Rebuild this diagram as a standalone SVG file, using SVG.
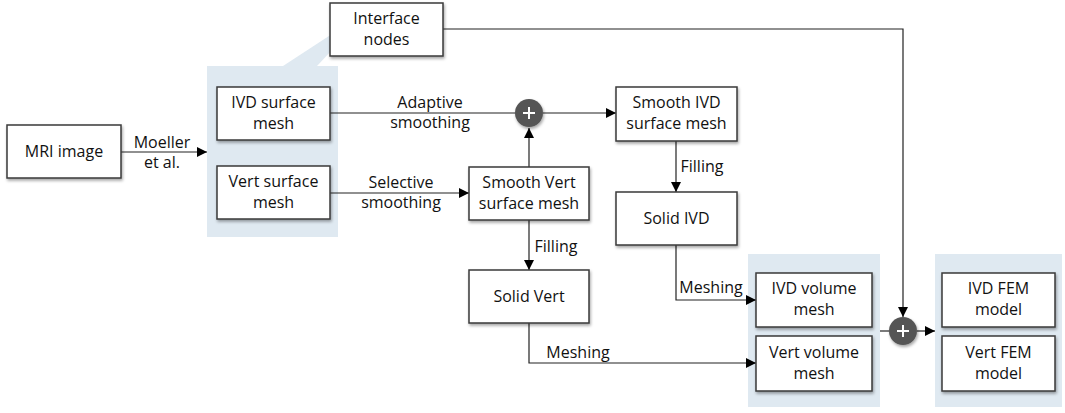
<svg xmlns="http://www.w3.org/2000/svg" width="1065" height="413" viewBox="0 0 1065 413">
<defs>
<filter id="sh" x="-20%" y="-20%" width="140%" height="150%">
<feDropShadow dx="1" dy="2" stdDeviation="1.5" flood-color="#000" flood-opacity="0.35"/>
</filter>
<marker id="ah" viewBox="0 0 10 10" refX="10" refY="5" markerWidth="10" markerHeight="10" markerUnits="userSpaceOnUse" orient="auto">
<path d="M0,0 L10,5 L0,10 z" fill="#000"/>
</marker>
</defs>
<style>
.box{fill:#fff;stroke:#3a3a3a;stroke-width:1.5;filter:url(#sh)}
.panel{fill:#dfe9f1}
.t{font-family:"Open Sans","Liberation Sans",sans-serif;font-size:16px;fill:#111;text-anchor:middle}
.c{fill:none;stroke:#222;stroke-width:1.2}
.a{fill:none;stroke:#222;stroke-width:1.2;marker-end:url(#ah)}
.plus{fill:#555;filter:url(#sh)}
.pl{stroke:#fff;stroke-width:2}
</style>
<g id="panels">
<polygon class="panel" points="283,66 332,34 332,50 317,66"/>
<rect class="panel" x="207" y="66" width="131" height="171"/>
<rect class="panel" x="748" y="254" width="132" height="153"/>
<rect class="panel" x="935" y="254" width="127" height="153"/>
</g>
<g id="connectors">
<path class="a" d="M121,152 H207"/>
<path class="c" d="M330,113 H515"/>
<path class="a" d="M330,193 H469"/>
<path class="a" d="M529,167 V128"/>
<path class="a" d="M543,113 H616"/>
<path class="a" d="M676,141 V192"/>
<path class="a" d="M529,220 V270"/>
<path class="a" d="M676,245 V300 H756"/>
<path class="a" d="M529,323 V363 H756"/>
<path class="a" d="M443,29 H903 V317"/>
<path class="c" d="M880,331 H889"/>
<path class="a" d="M917,331 H935"/>
<text class="t" x="162" y="148">Moeller</text>
<text class="t" x="162" y="168">et al.</text>
<text class="t" x="430" y="108">Adaptive</text>
<text class="t" x="430" y="128">smoothing</text>
<text class="t" x="401" y="188">Selective</text>
<text class="t" x="401" y="208">smoothing</text>
<text class="t" x="556" y="252">Filling</text>
<text class="t" x="702" y="172">Filling</text>
<text class="t" x="711" y="293">Meshing</text>
<text class="t" x="578" y="358">Meshing</text>
</g>
<g id="mri"><rect class="box" x="7" y="125" width="114" height="53"/><text class="t" x="64" y="157">MRI image</text></g>
<g id="interface"><rect class="box" x="330" y="3" width="113" height="53"/><text class="t" x="386.5" y="24">Interface</text><text class="t" x="386.5" y="45">nodes</text></g>
<g id="ivd-surface"><rect class="box" x="217" y="87" width="113" height="53"/><text class="t" x="273.5" y="108">IVD surface</text><text class="t" x="273.5" y="129">mesh</text></g>
<g id="vert-surface"><rect class="box" x="217" y="166" width="113" height="53"/><text class="t" x="273.5" y="187">Vert surface</text><text class="t" x="273.5" y="208">mesh</text></g>
<g id="smooth-vert"><rect class="box" x="469" y="167" width="120" height="53"/><text class="t" x="529" y="188">Smooth Vert</text><text class="t" x="529" y="209">surface mesh</text></g>
<g id="smooth-ivd"><rect class="box" x="616" y="87" width="121" height="54"/><text class="t" x="676.5" y="108">Smooth IVD</text><text class="t" x="676.5" y="129">surface mesh</text></g>
<g id="solid-ivd"><rect class="box" x="616" y="192" width="121" height="53"/><text class="t" x="676.5" y="224">Solid IVD</text></g>
<g id="solid-vert"><rect class="box" x="469" y="270" width="120" height="53"/><text class="t" x="529" y="302">Solid Vert</text></g>
<g id="ivd-volume"><rect class="box" x="756" y="273" width="116" height="54"/><text class="t" x="814" y="294">IVD volume</text><text class="t" x="814" y="315">mesh</text></g>
<g id="vert-volume"><rect class="box" x="756" y="336" width="116" height="55"/><text class="t" x="814" y="358">Vert volume</text><text class="t" x="814" y="379">mesh</text></g>
<g id="ivd-fem"><rect class="box" x="942" y="273" width="113" height="54"/><text class="t" x="998.5" y="294">IVD FEM</text><text class="t" x="998.5" y="315">model</text></g>
<g id="vert-fem"><rect class="box" x="942" y="336" width="113" height="55"/><text class="t" x="998.5" y="358">Vert FEM</text><text class="t" x="998.5" y="379">model</text></g>
<g id="plus1"><circle class="plus" cx="529" cy="113" r="14"/><path class="pl" d="M523,113 H535 M529,107 V119"/></g>
<g id="plus2"><circle class="plus" cx="903" cy="331" r="14"/><path class="pl" d="M897,331 H909 M903,325 V337"/></g>
</svg>
